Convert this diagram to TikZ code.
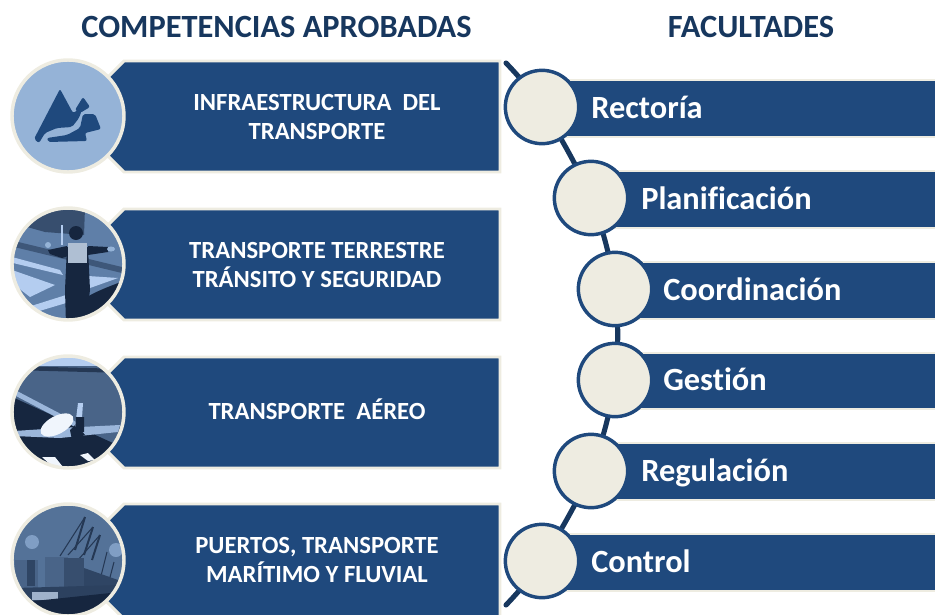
\documentclass[tikz,border=0pt]{standalone}
\usepackage{fontspec}
\setmainfont[Ligatures=NoCommon]{Carlito}
\usetikzlibrary{backgrounds}
\definecolor{navy}{HTML}{1F497D}
\definecolor{cream}{HTML}{EEECE1}
\definecolor{sky}{HTML}{95B3D7}
\definecolor{deep}{HTML}{17375E}
\definecolor{ink}{HTML}{16263F}
\definecolor{slate}{HTML}{5F7FA8}
\definecolor{pale}{HTML}{B4CDF0}
\tikzset{
  x=0.75pt,y=-0.75pt,
  head/.style={font=\bfseries\fontsize{24.3}{28}\selectfont,text=deep,inner sep=0,anchor=center},
  comp/.style={font=\bfseries\fontsize{18.5}{20.5}\selectfont,text=white,align=center,inner sep=0,anchor=center},
  fac/.style={font=\bfseries\fontsize{24.3}{28}\selectfont,text=white,inner sep=0,anchor=west,text height=16pt,text depth=5pt},
  panel/.style={fill=navy,draw=cream,line width=2.2pt,line join=miter},
  ring/.style={circle,draw=cream,line width=2.6pt,minimum size=84pt,inner sep=0},
  bead/.style={circle,fill=cream,draw=navy,line width=2.6pt,minimum size=55pt,inner sep=0},
  bar/.style={fill=navy,draw=cream,line width=2.2pt},
  spine/.style={draw=deep,line width=3.8pt}
}
\begin{document}
\begin{tikzpicture}
\useasboundingbox (0,0) rectangle (935,614);
\node[head] (h1) at (276.5,27) {COMPETENCIAS APROBADAS};
\node[head] (h2) at (751,27) {FACULTADES};

% left panels
\foreach \t/\b in {61/172,209/320,357/468}{
  \draw[panel] (500,\t) -- (124,\t) -- (100,\t+24) -- (100,\b-24) -- (124,\b) -- (500,\b) -- cycle;
}
\draw[panel] (500,504) -- (124,504) -- (100,528) -- (100,595) -- (124,619) -- (500,619) -- cycle;

\node[comp] (c1) at (317,117) {INFRAESTRUCTURA\ \ DEL\\[1pt]TRANSPORTE};
\node[comp] (c2) at (317,265) {TRANSPORTE TERRESTRE\\[1pt]TRÁNSITO Y SEGURIDAD};
\node[comp] (c3) at (317,409) {TRANSPORTE\ \ AÉREO};
\node[comp] (c4) at (317,560) {PUERTOS, TRANSPORTE\\[1pt]MARÍTIMO Y FLUVIAL};

% picture 1: road and mountains
\begin{scope}
\clip (68,116) circle (56);
\fill[sky] (10,58) rectangle (126,174);
\fill[navy,rounded corners=1.5] (60,89) -- (73,113) -- (83,107) -- (79,118) -- (72,127) -- (57,128) -- (45,133) -- (39,143) -- (34,139) -- cycle;
\fill[navy,rounded corners=1.5] (83,97) -- (90,107) -- (80,113) -- (75,110) -- cycle;
\fill[navy,rounded corners=1.5] (83,114) -- (95,114) -- (101,129) -- (85,133) -- (87,141) -- (48,142) -- (47,138) -- (67,135) -- (80,128) -- cycle;
\end{scope}

% picture 2: traffic officer
\begin{scope}
\clip (68,264) circle (56);
\fill[slate] (10,206) rectangle (126,322);
\fill[ink!55!slate] (35,212) -- (85,208) -- (84,235) -- (45,232) -- (20,225) -- cycle;
\fill[ink!45!slate] (10,240) -- (126,268) -- (126,274) -- (10,246) -- cycle;
\fill[pale] (12,257) -- (60,270) -- (63,275) -- (13,263) -- cycle;
\fill[pale] (12,270) -- (55,285) -- (30,297) -- (12,283) -- cycle;
\fill[pale] (28,307) -- (66,295) -- (66,303) -- (36,312) -- cycle;
\fill[pale] (88,276) -- (118,278) -- (90,288) -- cycle;
\draw[pale,line width=0.8pt] (62,225) -- (62,245);
% officer
\fill[ink] (67,247) -- (88,247) -- (90,290) -- (86,325) -- (66,325) -- (65,290) -- cycle;
\fill[ink] (67,246) -- (48,250) -- (50,254) -- (62,258) -- (68,256) -- cycle;
\fill[ink] (88,246) -- (108,247) -- (108,252) -- (88,255) -- cycle;
\fill[slate!50!white] (68,243) rectangle (87,263);
\fill[ink] (76,233) circle (7);
\fill[sky] (48,245) circle (3);
\fill[sky] (111,249) ellipse (4 and 2.5);
\fill[ink] (66,322) .. controls (70,300) and (100,290) .. (126,280) -- (126,322) -- cycle;
\end{scope}

% picture 3: aeroplane
\begin{scope}
\clip (68,412) circle (56);
\fill[slate!70!ink] (10,354) rectangle (126,470);
\fill[pale] (10,354) rectangle (126,366);
\fill[ink!80!slate] (10,366) -- (126,369) -- (126,373) -- (10,370) -- cycle;
\fill[ink] (10,396) -- (126,449) -- (126,472) -- (10,472) -- cycle;
\fill[pale!70!slate] (17,391) -- (80,424) -- (77,428) -- (14,395) -- cycle;
\fill[pale!70!slate] (14,431) -- (60,428) -- (120,425) -- (118,432) -- (60,438) -- (14,436) -- cycle;
\fill[white!80!pale,rotate around={28:(57,425)}] (57,425) ellipse (18 and 9);
\fill[ink] (70,430) -- (76,424) -- (85,435) -- (72,440) -- cycle;
\fill[pale] (78,403) -- (83,403) -- (82,418) -- (75,427) -- cycle;
\fill[ink] (76,417) -- (84,417) -- (84,432) -- (75,432) -- cycle;
\fill[white!80!pale] (42,457) -- (55,457) -- (63,467) -- (53,467) -- cycle;
\fill[white!80!pale] (80,455) -- (88,453) -- (95,460) -- (88,461) -- cycle;
\end{scope}

% picture 4: container ship
\begin{scope}
\clip (68,560) circle (56);
\fill[slate!85!ink] (10,502) rectangle (126,618);
\fill[sky!60!slate] (32,542) circle (7);
\fill[sky!60!slate] (116,550) circle (7);
\draw[ink!80!slate,line width=1.5pt] (85,517) -- (75,550) (93,527) -- (84,555) (100,535) -- (92,560);
\draw[ink!80!slate,line width=0.8pt] (60,556) -- (85,517) (68,555) -- (93,527) (78,560) -- (100,535) (107,552) -- (100,580) (114,562) -- (108,585);
\fill[slate!70!ink] (15,560) rectangle (38,590);
\fill[ink!65!slate] (27,560) rectangle (35,586);
\fill[slate!70!ink] (45,557) rectangle (68,590);
\fill[ink!55!slate] (64,558) rectangle (84,590);
\fill[ink!65!slate] (84,568) -- (118,580) -- (118,592) -- (84,592) -- cycle;
\fill[ink!70!slate] (15,588) -- (120,585) -- (110,602) -- (60,605) -- (25,600) -- cycle;
\fill[slate!60!white] (32,592) rectangle (58,600);
\fill[ink] (25,602) -- (120,592) -- (120,620) -- (25,620) -- cycle;
\end{scope}

% rings around pictures
\node[ring] (r1) at (68,116) {};
\node[ring] (r2) at (68,264) {};
\node[ring] (r3) at (68,412) {};
\node[ring] (r4) at (68,560) {};

% right bars
\draw[bar] (540,80) rectangle (940,137);
\draw[bar] (590,171) rectangle (940,228);
\draw[bar] (613,262) rectangle (940,319);
\draw[bar] (613,353) rectangle (940,409);
\draw[bar] (590,443) rectangle (940,500);
\draw[bar] (540,534) rectangle (940,591);

\node[bead] (b1) at (542,107) {};
\node[bead] (b2) at (591,198) {};
\node[bead] (b3) at (615,289) {};
\node[bead] (b4) at (615,380) {};
\node[bead] (b5) at (591,471) {};
\node[bead] (b6) at (542,561) {};

\node[fac] (f1) at (591,111) {Rectoría};
\node[fac] (f2) at (641,202) {Planificación};
\node[fac] (f3) at (663,293) {Coordinación};
\node[fac] (f4) at (663,383) {Gestión};
\node[fac] (f5) at (641,474) {Regulación};
\node[fac] (f6) at (591,565) {Control};

\coordinate (sTop) at (506,63);
\coordinate (sBot) at (506,605);
\begin{scope}[on background layer]
\draw[spine,line cap=round] plot[smooth,tension=0.55] coordinates {(sTop) (b1) (b2) (b3) (b4) (b5) (b6) (sBot)};
\end{scope}
\end{tikzpicture}
\end{document}
